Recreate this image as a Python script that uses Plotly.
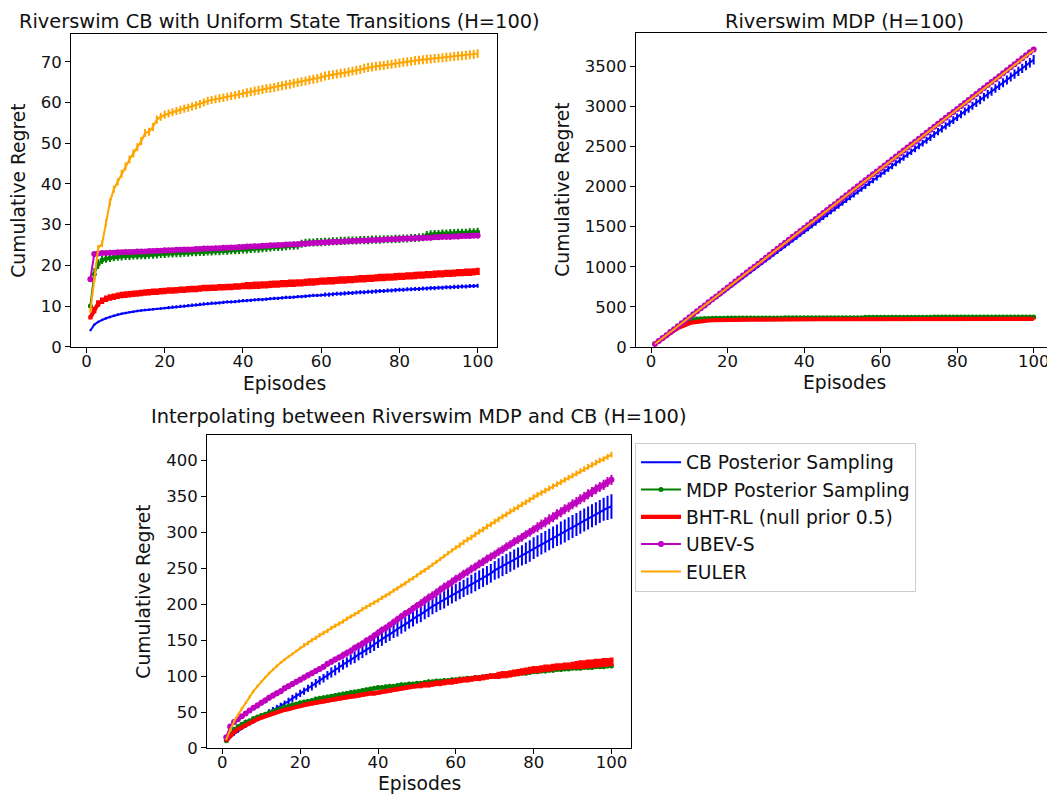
import plotly.graph_objects as go

# Episodes on the x axis (1..100)
episodes = list(range(1, 101))

labels = ["CB Posterior Sampling", "MDP Posterior Sampling", "BHT-RL (null prior 0.5)", "UBEV-S", "EULER"]

"""
-Riverswim CB with Uniform State Transitions (top left)-
"""
tl_cb = [4.0, 5.4, 6.1, 6.6, 7.0, 7.3, 7.6, 7.9, 8.1, 8.3,
         8.5, 8.6, 8.8, 8.9, 9.0, 9.1, 9.2, 9.3, 9.4, 9.5,
         9.6, 9.7, 9.8, 9.9, 10.0, 10.1, 10.2, 10.3, 10.4, 10.5,
         10.6, 10.7, 10.7, 10.8, 10.9, 11.0, 11.0, 11.1, 11.2, 11.3,
         11.3, 11.4, 11.5, 11.6, 11.6, 11.7, 11.8, 11.9, 11.9, 12.0,
         12.1, 12.1, 12.2, 12.3, 12.3, 12.4, 12.5, 12.6, 12.6, 12.7,
         12.8, 12.8, 12.9, 13.0, 13.0, 13.1, 13.2, 13.2, 13.3, 13.4,
         13.4, 13.5, 13.5, 13.6, 13.7, 13.7, 13.8, 13.8, 13.9, 14.0,
         14.0, 14.1, 14.1, 14.2, 14.2, 14.3, 14.3, 14.4, 14.4, 14.5,
         14.5, 14.6, 14.6, 14.7, 14.7, 14.8, 14.8, 14.9, 14.9, 15.0]
tl_mdp = [10.0, 17.8, 20.3, 21.3, 21.6, 21.8, 22.0, 22.1, 22.2, 22.3,
          22.3, 22.4, 22.4, 22.5, 22.5, 22.6, 22.6, 22.7, 22.8, 22.8,
          22.9, 22.9, 23.0, 23.0, 23.1, 23.1, 23.2, 23.2, 23.3, 23.3,
          23.4, 23.4, 23.5, 23.5, 23.6, 23.6, 23.7, 23.7, 23.8, 23.9,
          23.9, 24.0, 24.1, 24.1, 24.2, 24.3, 24.4, 24.5, 24.5, 24.6,
          24.7, 24.8, 24.8, 24.9, 25.3, 25.5, 25.6, 25.6, 25.7, 25.7,
          25.8, 25.8, 25.9, 25.9, 26.0, 26.0, 26.1, 26.1, 26.1, 26.2,
          26.2, 26.2, 26.3, 26.3, 26.3, 26.4, 26.4, 26.4, 26.5, 26.5,
          26.6, 26.6, 26.7, 26.7, 26.8, 26.9, 27.4, 27.6, 27.7, 27.7,
          27.8, 27.8, 27.9, 27.9, 28.0, 28.0, 28.0, 28.1, 28.1, 28.2]
tl_bht = [7.2, 9.0, 10.6, 11.3, 11.8, 12.1, 12.3, 12.5, 12.7, 12.8,
          12.9, 13.0, 13.1, 13.2, 13.3, 13.4, 13.5, 13.5, 13.6, 13.7,
          13.8, 13.8, 13.9, 14.0, 14.0, 14.1, 14.2, 14.2, 14.3, 14.4,
          14.4, 14.5, 14.5, 14.6, 14.6, 14.7, 14.7, 14.8, 14.8, 14.9,
          15.0, 15.0, 15.1, 15.1, 15.2, 15.2, 15.3, 15.4, 15.4, 15.5,
          15.5, 15.6, 15.6, 15.7, 15.7, 15.8, 15.9, 15.9, 16.0, 16.1,
          16.1, 16.2, 16.2, 16.3, 16.4, 16.4, 16.5, 16.5, 16.6, 16.7,
          16.7, 16.8, 16.8, 16.9, 17.0, 17.0, 17.1, 17.1, 17.2, 17.3,
          17.3, 17.4, 17.4, 17.5, 17.6, 17.6, 17.7, 17.7, 17.8, 17.9,
          17.9, 18.0, 18.0, 18.1, 18.2, 18.2, 18.3, 18.3, 18.4, 18.5]
tl_ubev = [16.6, 22.8, 22.9, 23.0, 23.0, 23.1, 23.1, 23.2, 23.2, 23.3,
           23.3, 23.3, 23.4, 23.4, 23.4, 23.5, 23.5, 23.6, 23.6, 23.7,
           23.7, 23.7, 23.8, 23.8, 23.9, 23.9, 23.9, 24.0, 24.0, 24.1,
           24.1, 24.1, 24.2, 24.2, 24.3, 24.3, 24.4, 24.4, 24.5, 24.5,
           24.6, 24.6, 24.7, 24.7, 24.8, 24.8, 24.9, 24.9, 25.0, 25.0,
           25.1, 25.1, 25.2, 25.2, 25.3, 25.3, 25.4, 25.5, 25.5, 25.6,
           25.6, 25.7, 25.7, 25.8, 25.8, 25.9, 25.9, 26.0, 26.0, 26.1,
           26.1, 26.1, 26.2, 26.2, 26.3, 26.3, 26.4, 26.4, 26.4, 26.5,
           26.5, 26.6, 26.6, 26.7, 26.7, 26.7, 26.8, 26.8, 26.9, 26.9,
           27.0, 27.0, 27.0, 27.1, 27.1, 27.2, 27.2, 27.2, 27.3, 27.3]
tl_euler = [8.8, 16.5, 24.2, 25.3, 30.5, 35.5, 38.7, 40.5, 42.5, 44.3,
            46.0, 47.5, 49.0, 50.5, 52.5, 52.8, 54.0, 55.8, 56.5, 57.0,
            57.3, 57.6, 57.9, 58.2, 58.5, 58.7, 59.0, 59.3, 59.6, 60.0,
            60.4, 60.6, 60.8, 61.0, 61.2, 61.4, 61.6, 61.8, 62.0, 62.2,
            62.4, 62.6, 62.8, 63.0, 63.2, 63.4, 63.5, 63.7, 63.9, 64.1,
            64.3, 64.5, 64.7, 64.9, 65.1, 65.3, 65.5, 65.7, 65.9, 66.2,
            66.5, 66.7, 66.8, 67.0, 67.2, 67.3, 67.5, 67.7, 67.9, 68.1,
            68.4, 68.6, 68.7, 68.9, 69.0, 69.1, 69.3, 69.4, 69.6, 69.7,
            69.9, 70.0, 70.1, 70.3, 70.4, 70.5, 70.6, 70.7, 70.8, 70.9,
            71.0, 71.1, 71.2, 71.3, 71.4, 71.5, 71.6, 71.7, 71.8, 72.0]

tl_cb_err = [0.2, 0.3, 0.3, 0.3, 0.3, 0.3, 0.3, 0.3, 0.3, 0.3,
             0.3, 0.3, 0.3, 0.3, 0.3, 0.3, 0.3, 0.3, 0.3, 0.3,
             0.4, 0.4, 0.4, 0.4, 0.4, 0.4, 0.4, 0.4, 0.4, 0.4,
             0.4, 0.4, 0.4, 0.4, 0.4, 0.4, 0.4, 0.4, 0.4, 0.4,
             0.4, 0.4, 0.4, 0.4, 0.4, 0.4, 0.4, 0.4, 0.4, 0.4,
             0.4, 0.4, 0.4, 0.4, 0.4, 0.4, 0.4, 0.4, 0.4, 0.4,
             0.5, 0.5, 0.5, 0.5, 0.5, 0.5, 0.5, 0.5, 0.5, 0.5,
             0.5, 0.5, 0.5, 0.5, 0.5, 0.5, 0.5, 0.5, 0.5, 0.5,
             0.5, 0.5, 0.5, 0.5, 0.5, 0.5, 0.5, 0.5, 0.5, 0.5,
             0.5, 0.5, 0.5, 0.5, 0.5, 0.5, 0.5, 0.5, 0.5, 0.5]
tl_mdp_err = [0.5, 1.5, 1.2, 1.0, 1.0, 1.0, 1.0, 1.0, 1.0, 1.0,
              1.0, 1.0, 1.0, 1.0, 1.0, 1.0, 1.0, 1.0, 1.0, 1.0,
              1.0, 1.0, 1.0, 1.0, 1.0, 1.0, 1.0, 1.0, 1.0, 1.0,
              1.0, 1.0, 1.0, 1.0, 1.0, 1.0, 1.0, 1.0, 1.0, 1.0,
              1.0, 1.0, 1.0, 1.0, 1.0, 1.0, 1.0, 1.0, 1.0, 1.0,
              1.0, 1.0, 1.0, 1.0, 1.0, 1.0, 1.0, 1.0, 1.0, 1.0,
              1.0, 1.0, 1.0, 1.0, 1.0, 1.0, 1.0, 1.0, 1.0, 1.0,
              1.0, 1.0, 1.0, 1.0, 1.0, 1.0, 1.0, 1.0, 1.0, 1.0,
              1.0, 1.0, 1.0, 1.0, 1.0, 1.0, 1.0, 1.0, 1.0, 1.0,
              1.0, 1.0, 1.0, 1.0, 1.0, 1.0, 1.0, 1.0, 1.0, 1.0]
tl_bht_err = [0.5, 0.8, 0.8, 0.8, 0.8, 0.8, 0.8, 0.8, 0.8, 0.8,
              0.8, 0.8, 0.8, 0.8, 0.8, 0.8, 0.8, 0.8, 0.8, 0.8,
              0.8, 0.8, 0.8, 0.8, 0.8, 0.8, 0.8, 0.8, 0.8, 0.8,
              0.8, 0.8, 0.8, 0.8, 0.8, 0.8, 0.8, 0.8, 0.8, 0.8,
              0.9, 0.9, 0.9, 0.9, 0.9, 0.9, 0.9, 0.9, 0.9, 0.9,
              0.9, 0.9, 0.9, 0.9, 0.9, 0.9, 0.9, 0.9, 0.9, 0.9,
              0.9, 0.9, 0.9, 0.9, 0.9, 0.9, 0.9, 0.9, 0.9, 0.9,
              0.9, 0.9, 0.9, 0.9, 0.9, 0.9, 0.9, 0.9, 0.9, 0.9,
              0.9, 0.9, 0.9, 0.9, 0.9, 0.9, 0.9, 0.9, 0.9, 0.9,
              0.9, 0.9, 0.9, 0.9, 0.9, 0.9, 0.9, 0.9, 0.9, 0.9]
tl_ubev_err = [0.4, 0.5, 0.5, 0.5, 0.5, 0.5, 0.5, 0.5, 0.5, 0.5,
               0.5, 0.5, 0.5, 0.5, 0.5, 0.5, 0.5, 0.5, 0.5, 0.5,
               0.6, 0.6, 0.6, 0.6, 0.6, 0.6, 0.6, 0.6, 0.6, 0.6,
               0.6, 0.6, 0.6, 0.6, 0.6, 0.6, 0.6, 0.6, 0.6, 0.6,
               0.6, 0.6, 0.6, 0.6, 0.6, 0.6, 0.6, 0.6, 0.6, 0.6,
               0.6, 0.6, 0.6, 0.6, 0.6, 0.6, 0.6, 0.6, 0.6, 0.6,
               0.6, 0.6, 0.6, 0.6, 0.6, 0.6, 0.6, 0.6, 0.6, 0.6,
               0.6, 0.6, 0.6, 0.6, 0.6, 0.6, 0.6, 0.6, 0.6, 0.6,
               0.7, 0.7, 0.7, 0.7, 0.7, 0.7, 0.7, 0.7, 0.7, 0.7,
               0.7, 0.7, 0.7, 0.7, 0.7, 0.7, 0.7, 0.7, 0.7, 0.7]
tl_euler_err = [0.5, 0.8, 0.8, 0.8, 0.9, 0.9, 0.9, 0.9, 1.0, 1.0,
                1.0, 1.0, 1.0, 1.0, 1.0, 1.0, 1.0, 1.0, 1.0, 1.0,
                1.0, 1.0, 1.0, 1.0, 1.0, 1.0, 1.0, 1.0, 1.0, 1.0,
                1.0, 1.0, 1.0, 1.0, 1.0, 1.0, 1.0, 1.0, 1.0, 1.0,
                1.1, 1.1, 1.1, 1.1, 1.1, 1.1, 1.1, 1.1, 1.1, 1.1,
                1.1, 1.1, 1.1, 1.1, 1.1, 1.1, 1.1, 1.1, 1.1, 1.1,
                1.1, 1.1, 1.1, 1.1, 1.1, 1.1, 1.1, 1.1, 1.1, 1.1,
                1.1, 1.1, 1.1, 1.1, 1.1, 1.1, 1.1, 1.1, 1.1, 1.1,
                1.1, 1.1, 1.1, 1.1, 1.1, 1.1, 1.1, 1.1, 1.1, 1.1,
                1.1, 1.1, 1.1, 1.1, 1.1, 1.1, 1.1, 1.1, 1.1, 1.1]

"""
-Riverswim MDP (top right)-
"""
tr_cb = [36, 72, 107, 143, 179, 215, 251, 286, 322, 358,
         394, 430, 465, 501, 537, 573, 609, 644, 680, 716,
         752, 788, 823, 859, 895, 931, 967, 1002, 1038, 1074,
         1110, 1146, 1181, 1217, 1253, 1289, 1325, 1360, 1396, 1432,
         1468, 1504, 1539, 1575, 1611, 1647, 1683, 1718, 1754, 1790,
         1826, 1862, 1897, 1933, 1969, 2005, 2041, 2076, 2112, 2148,
         2184, 2220, 2255, 2291, 2327, 2363, 2399, 2434, 2470, 2506,
         2542, 2578, 2613, 2649, 2685, 2721, 2757, 2792, 2828, 2864,
         2900, 2936, 2971, 3007, 3043, 3079, 3115, 3150, 3186, 3222,
         3258, 3294, 3329, 3365, 3401, 3437, 3473, 3508, 3544, 3580]
tr_mdp = [37, 74, 110, 146, 182, 218, 252, 283, 310, 330,
          342, 349, 353, 355, 357, 358, 359, 360, 360, 361,
          361, 361, 362, 362, 362, 362, 362, 363, 363, 363,
          363, 363, 363, 363, 364, 364, 364, 364, 364, 364,
          364, 364, 364, 364, 364, 365, 365, 365, 365, 365,
          365, 365, 365, 365, 366, 371, 371, 372, 372, 372,
          372, 372, 372, 372, 372, 372, 372, 372, 372, 372,
          372, 372, 372, 373, 373, 373, 373, 373, 373, 373,
          373, 373, 373, 373, 373, 373, 373, 373, 373, 373,
          373, 373, 373, 373, 373, 373, 373, 373, 373, 373]
tr_bht = [37, 73, 108, 143, 176, 207, 236, 260, 280, 296,
          308, 317, 323, 328, 331, 334, 336, 337, 338, 339,
          340, 340, 341, 341, 342, 342, 342, 343, 343, 343,
          343, 344, 344, 344, 344, 344, 345, 345, 345, 345,
          345, 345, 346, 346, 346, 346, 346, 346, 346, 347,
          347, 347, 347, 347, 347, 347, 347, 348, 348, 348,
          348, 348, 348, 348, 348, 348, 348, 349, 349, 349,
          349, 349, 349, 349, 349, 349, 349, 349, 350, 350,
          350, 350, 350, 350, 350, 350, 350, 350, 350, 350,
          350, 351, 351, 351, 351, 351, 351, 351, 351, 351]
tr_ubev = [37, 74, 111, 148, 186, 223, 260, 297, 334, 371,
           408, 445, 482, 519, 557, 594, 631, 668, 705, 742,
           779, 816, 853, 890, 928, 965, 1002, 1039, 1076, 1113,
           1150, 1187, 1224, 1261, 1299, 1336, 1373, 1410, 1447, 1484,
           1521, 1558, 1595, 1632, 1670, 1707, 1744, 1781, 1818, 1855,
           1892, 1929, 1966, 2003, 2041, 2078, 2115, 2152, 2189, 2226,
           2263, 2300, 2337, 2374, 2412, 2449, 2486, 2523, 2560, 2597,
           2634, 2671, 2708, 2745, 2783, 2820, 2857, 2894, 2931, 2968,
           3005, 3042, 3079, 3116, 3154, 3191, 3228, 3265, 3302, 3339,
           3376, 3413, 3450, 3487, 3525, 3562, 3599, 3636, 3673, 3710]
tr_euler = [37, 74, 111, 148, 185, 222, 259, 296, 333, 370,
            407, 444, 481, 518, 555, 592, 629, 666, 703, 740,
            777, 814, 851, 888, 925, 962, 999, 1036, 1073, 1110,
            1147, 1184, 1221, 1258, 1295, 1332, 1369, 1406, 1443, 1480,
            1517, 1554, 1591, 1628, 1665, 1702, 1739, 1776, 1813, 1850,
            1887, 1924, 1961, 1998, 2035, 2072, 2109, 2146, 2183, 2220,
            2257, 2294, 2331, 2368, 2405, 2442, 2479, 2516, 2553, 2590,
            2627, 2664, 2701, 2738, 2775, 2812, 2849, 2886, 2923, 2960,
            2997, 3034, 3071, 3108, 3145, 3182, 3219, 3256, 3293, 3330,
            3367, 3404, 3441, 3478, 3515, 3552, 3589, 3626, 3663, 3700]

tr_cb_err = [1, 1, 2, 2, 3, 4, 4, 5, 5, 6,
             7, 7, 8, 8, 9, 10, 10, 11, 11, 12,
             13, 13, 14, 14, 15, 16, 16, 17, 17, 18,
             19, 19, 20, 20, 21, 22, 22, 23, 23, 24,
             25, 25, 26, 26, 27, 28, 28, 29, 29, 30,
             31, 31, 32, 32, 33, 34, 34, 35, 35, 36,
             37, 37, 38, 38, 39, 40, 40, 41, 41, 42,
             43, 43, 44, 44, 45, 46, 46, 47, 47, 48,
             49, 49, 50, 50, 51, 52, 52, 53, 53, 54,
             55, 55, 56, 56, 57, 58, 58, 59, 59, 60]
tr_mdp_err = [2, 3, 4, 5, 6, 7, 8, 9, 10, 10,
              10, 10, 10, 10, 10, 10, 10, 10, 10, 10,
              10, 10, 10, 10, 10, 10, 10, 10, 10, 10,
              10, 10, 10, 10, 10, 10, 10, 10, 10, 10,
              10, 10, 10, 10, 10, 10, 10, 10, 10, 10,
              10, 10, 10, 10, 10, 11, 11, 11, 11, 11,
              11, 11, 11, 11, 11, 11, 11, 11, 11, 11,
              11, 11, 11, 11, 11, 11, 11, 11, 11, 11,
              11, 11, 11, 11, 11, 11, 11, 11, 11, 11,
              11, 11, 11, 11, 11, 11, 11, 11, 11, 11]
tr_bht_err = [2, 3, 4, 5, 6, 7, 7, 8, 8, 8,
              8, 8, 8, 8, 8, 8, 8, 8, 8, 8,
              8, 8, 8, 8, 8, 8, 8, 8, 8, 8,
              8, 8, 8, 8, 8, 8, 8, 8, 8, 8,
              8, 8, 8, 8, 8, 8, 8, 8, 8, 8,
              8, 8, 8, 8, 8, 8, 8, 8, 8, 8,
              8, 8, 8, 8, 8, 8, 8, 8, 8, 8,
              8, 8, 8, 8, 8, 8, 8, 8, 8, 8,
              8, 8, 8, 8, 8, 8, 8, 8, 8, 8,
              8, 8, 8, 8, 8, 8, 8, 8, 8, 8]
tr_ubev_err = [2, 3, 4, 4, 5, 5, 6, 6, 7, 7,
               8, 8, 8, 8, 8, 8, 8, 8, 8, 8,
               8, 8, 8, 8, 8, 8, 8, 8, 8, 8,
               9, 9, 9, 9, 9, 9, 9, 9, 9, 9,
               9, 9, 9, 9, 9, 9, 9, 9, 9, 9,
               9, 9, 9, 9, 9, 9, 9, 9, 9, 9,
               10, 10, 10, 10, 10, 10, 10, 10, 10, 10,
               10, 10, 10, 10, 10, 10, 10, 10, 10, 10,
               10, 10, 10, 10, 10, 10, 10, 10, 10, 10,
               10, 10, 10, 10, 10, 10, 10, 10, 10, 10]
tr_euler_err = [1, 2, 2, 3, 3, 3, 4, 4, 4, 4,
                5, 5, 5, 5, 5, 5, 5, 5, 5, 5,
                5, 5, 5, 5, 5, 5, 5, 5, 5, 5,
                5, 5, 5, 5, 5, 5, 5, 5, 5, 5,
                5, 5, 5, 5, 5, 5, 5, 5, 5, 5,
                5, 5, 5, 5, 5, 5, 5, 5, 5, 5,
                5, 5, 5, 5, 5, 5, 5, 5, 5, 5,
                5, 5, 5, 5, 5, 5, 5, 5, 5, 5,
                5, 5, 5, 5, 5, 5, 5, 5, 5, 5,
                5, 5, 5, 5, 5, 5, 5, 5, 5, 5]

"""
-Interpolating between Riverswim MDP and CB (bottom)-
"""
bt_cb = [10, 15, 19, 23, 27, 30, 34, 37, 40, 43,
         46, 50, 53, 56, 59, 62, 65, 69, 72, 76,
         79, 83, 86, 90, 94, 97, 101, 105, 108, 112,
         116, 119, 123, 126, 130, 133, 137, 140, 144, 148,
         151, 155, 158, 162, 165, 169, 172, 176, 179, 183,
         186, 190, 193, 197, 200, 203, 206, 210, 213, 216,
         219, 222, 225, 228, 231, 234, 237, 240, 243, 247,
         250, 253, 256, 259, 262, 265, 268, 271, 274, 278,
         281, 284, 287, 290, 293, 296, 299, 302, 305, 308,
         311, 314, 317, 320, 323, 326, 329, 332, 334, 336]
bt_mdp = [10, 20, 26, 30, 33, 36, 38, 41, 43, 45,
          47, 49, 51, 53, 55, 57, 58, 60, 61, 63,
          64, 65, 66, 68, 69, 70, 71, 72, 73, 74,
          75, 76, 77, 78, 79, 80, 81, 82, 83, 84,
          84, 85, 86, 86, 87, 88, 88, 89, 89, 90,
          90, 91, 92, 92, 93, 93, 94, 94, 95, 95,
          96, 96, 97, 97, 98, 98, 99, 99, 100, 100,
          101, 101, 102, 102, 103, 103, 104, 104, 105, 106,
          106, 107, 107, 108, 108, 109, 109, 110, 110, 111,
          111, 111, 112, 112, 112, 113, 113, 113, 114, 114]
bt_bht = [10, 17, 22, 26, 29, 32, 35, 37, 40, 42,
          44, 46, 48, 50, 51, 53, 54, 56, 57, 58,
          60, 61, 62, 63, 64, 65, 66, 67, 68, 69,
          70, 71, 72, 72, 73, 74, 75, 76, 76, 77,
          78, 79, 80, 81, 82, 83, 84, 85, 86, 86,
          87, 88, 88, 89, 90, 90, 91, 92, 92, 93,
          94, 95, 95, 96, 97, 97, 98, 99, 100, 100,
          101, 102, 102, 103, 104, 105, 106, 107, 108, 109,
          109, 110, 111, 111, 112, 113, 113, 114, 114, 115,
          115, 116, 116, 117, 117, 118, 118, 119, 119, 120]
bt_ubev = [15, 30, 36, 40, 44, 48, 52, 56, 59, 63,
           66, 70, 73, 76, 79, 83, 86, 89, 92, 95,
           98, 101, 104, 107, 110, 113, 117, 120, 123, 126,
           129, 132, 135, 139, 142, 145, 149, 152, 156, 160,
           164, 167, 171, 175, 179, 183, 187, 190, 194, 198,
           201, 205, 209, 212, 216, 220, 224, 227, 231, 235,
           238, 242, 245, 249, 252, 256, 259, 263, 266, 269,
           273, 276, 280, 283, 287, 290, 293, 297, 300, 304,
           307, 311, 314, 318, 321, 325, 328, 332, 335, 339,
           342, 346, 349, 353, 356, 360, 363, 366, 370, 373]
bt_euler = [12, 25, 37, 46, 55, 63, 71, 79, 86, 92,
            98, 104, 109, 114, 119, 123, 127, 131, 135, 139,
            143, 146, 150, 153, 157, 160, 163, 167, 170, 173,
            176, 180, 183, 186, 189, 193, 196, 199, 202, 205,
            209, 212, 215, 219, 222, 226, 229, 233, 236, 240,
            244, 247, 251, 255, 259, 263, 267, 271, 275, 279,
            282, 286, 290, 293, 297, 301, 304, 308, 311, 315,
            318, 322, 325, 329, 332, 335, 339, 342, 345, 349,
            352, 355, 358, 361, 364, 367, 370, 373, 376, 379,
            382, 385, 388, 391, 394, 397, 400, 402, 405, 408]

bt_cb_err = [1, 1, 2, 2, 2, 2, 3, 3, 3, 3,
             3, 4, 4, 4, 4, 4, 5, 5, 5, 5,
             5, 5, 6, 6, 6, 6, 6, 7, 7, 7,
             7, 7, 7, 8, 8, 8, 8, 8, 9, 9,
             9, 9, 9, 9, 10, 10, 10, 10, 10, 10,
             11, 11, 11, 11, 11, 11, 12, 12, 12, 12,
             12, 12, 12, 13, 13, 13, 13, 13, 13, 13,
             14, 14, 14, 14, 14, 14, 14, 15, 15, 15,
             15, 15, 15, 15, 15, 15, 16, 16, 16, 16,
             16, 16, 16, 16, 16, 16, 16, 16, 17, 17]
bt_mdp_err = [1, 2, 2, 2, 2, 2, 2, 2, 2, 2,
              2, 2, 2, 2, 2, 2, 2, 2, 2, 2,
              3, 3, 3, 3, 3, 3, 3, 3, 3, 3,
              3, 3, 3, 3, 3, 3, 3, 3, 3, 3,
              3, 3, 3, 3, 3, 3, 3, 3, 3, 3,
              3, 3, 3, 3, 3, 3, 3, 3, 3, 3,
              3, 3, 3, 3, 3, 3, 3, 3, 3, 3,
              3, 3, 3, 3, 3, 3, 3, 3, 3, 3,
              3, 3, 3, 3, 3, 3, 3, 3, 3, 3,
              3, 3, 3, 3, 3, 3, 3, 3, 3, 3]
bt_bht_err = [1, 2, 2, 2, 2, 2, 2, 2, 2, 2,
              2, 2, 2, 2, 2, 2, 2, 2, 2, 2,
              3, 3, 3, 3, 3, 3, 3, 3, 3, 3,
              3, 3, 3, 3, 3, 3, 3, 3, 3, 3,
              3, 3, 3, 3, 3, 3, 3, 3, 3, 3,
              4, 4, 4, 4, 4, 4, 4, 4, 4, 4,
              4, 4, 4, 4, 4, 4, 4, 4, 4, 4,
              5, 5, 5, 5, 5, 5, 5, 5, 5, 5,
              5, 5, 5, 5, 5, 5, 5, 5, 5, 5,
              6, 6, 6, 6, 6, 6, 6, 6, 6, 6]
bt_ubev_err = [3, 3, 3, 3, 3, 3, 3, 3, 4, 4,
               4, 4, 4, 4, 4, 4, 4, 4, 4, 4,
               4, 4, 4, 4, 4, 4, 4, 4, 4, 4,
               5, 5, 5, 5, 5, 5, 5, 5, 5, 5,
               5, 5, 5, 5, 5, 5, 5, 5, 5, 5,
               6, 6, 6, 6, 6, 6, 6, 6, 6, 6,
               6, 6, 6, 6, 6, 6, 6, 6, 6, 6,
               6, 6, 6, 6, 6, 6, 6, 6, 6, 6,
               7, 7, 7, 7, 7, 7, 7, 7, 7, 7,
               7, 7, 7, 7, 7, 7, 7, 7, 7, 7]
bt_euler_err = [1, 2, 2, 2, 2, 2, 2, 2, 2, 2,
                2, 2, 2, 2, 2, 2, 2, 2, 2, 2,
                3, 3, 3, 3, 3, 3, 3, 3, 3, 3,
                3, 3, 3, 3, 3, 3, 3, 3, 3, 3,
                3, 3, 3, 3, 3, 3, 3, 3, 3, 3,
                3, 3, 3, 3, 3, 3, 3, 3, 3, 3,
                4, 4, 4, 4, 4, 4, 4, 4, 4, 4,
                4, 4, 4, 4, 4, 4, 4, 4, 4, 4,
                4, 4, 4, 4, 4, 4, 4, 4, 4, 4,
                4, 4, 4, 4, 4, 4, 4, 4, 4, 4]

"""
-Styling (matplotlib-ish look)-
"""
colors = ["#0000ff", "#008000", "#ff0000", "#bf00bf", "#ffa500"]
line_widths = [2, 2, 4.2, 2, 2]
marker_sizes = [0, 5, 0, 6, 0]
FONT = "DejaVu Sans"
FS_TICK = 16.5
FS = 18.7
FS_TITLE = 19.4
W, H = 1055, 803

panels = [
    ("x", "y", [tl_cb, tl_mdp, tl_bht, tl_ubev, tl_euler],
     [tl_cb_err, tl_mdp_err, tl_bht_err, tl_ubev_err, tl_euler_err], False),
    ("x2", "y2", [tr_cb, tr_mdp, tr_bht, tr_ubev, tr_euler],
     [tr_cb_err, tr_mdp_err, tr_bht_err, tr_ubev_err, tr_euler_err], False),
    ("x3", "y3", [bt_cb, bt_mdp, bt_bht, bt_ubev, bt_euler],
     [bt_cb_err, bt_mdp_err, bt_bht_err, bt_ubev_err, bt_euler_err], True),
]

fig = go.Figure()
for xa, ya, series, errs, show in panels:
    for i in range(5):
        mode = "lines+markers" if marker_sizes[i] else "lines"
        fig.add_trace(go.Scatter(
            x=episodes, y=series[i], xaxis=xa, yaxis=ya, mode=mode, name=labels[i],
            showlegend=show,
            line=dict(color=colors[i], width=line_widths[i]),
            marker=dict(color=colors[i], size=marker_sizes[i] if marker_sizes[i] else 1),
            error_y=dict(type="data", array=errs[i], visible=True, color=colors[i],
                         thickness=line_widths[i], width=0),
        ))


def px_x(p):
    return p / W


def px_y(p):
    return 1 - p / H


axis_common = dict(showline=True, linecolor="black", linewidth=1.1, mirror=True,
                   ticks="outside", ticklen=5, tickwidth=1.1, tickcolor="black",
                   showgrid=False, zeroline=False,
                   tickfont=dict(family=FONT, size=FS_TICK, color="#111111"))
x_common = dict(range=[-3.95, 104.95], tickvals=[0, 20, 40, 60, 80, 100], ticklabelstandoff=-6)

fig.update_layout(
    width=W, height=H,
    margin=dict(l=0, r=0, t=0, b=0),
    paper_bgcolor="white", plot_bgcolor="white",
    font=dict(family=FONT, size=FS, color="#111111"),
    xaxis=dict(domain=[px_x(63), px_x(489)], anchor="y", **x_common, **axis_common),
    yaxis=dict(domain=[px_y(343), px_y(26)], range=[0, 76.9], tickvals=[0, 10, 20, 30, 40, 50, 60, 70],
               anchor="x", **axis_common),
    xaxis2=dict(domain=[px_x(628), px_x(1044.6)], anchor="y2", **x_common, **axis_common),
    yaxis2=dict(domain=[px_y(343.3), px_y(25)], range=[0, 3918],
                tickvals=[0, 500, 1000, 1500, 2000, 2500, 3000, 3500], anchor="x2", **axis_common),
    xaxis3=dict(domain=[px_x(199), px_x(622.7)], anchor="y3", **x_common, **axis_common),
    yaxis3=dict(domain=[px_y(749.3), px_y(432.7)], range=[0, 435],
                tickvals=[0, 50, 100, 150, 200, 250, 300, 350, 400], anchor="x3", **axis_common),
    legend=dict(x=px_x(627), y=px_y(440), xanchor="left", yanchor="top",
                bgcolor="white", bordercolor="#cccccc", borderwidth=1,
                font=dict(family=FONT, size=FS, color="#111111"),
                tracegroupgap=0, itemwidth=40),
)

# titles and axis labels placed like matplotlib's
texts = [
    ("Riverswim CB with Uniform State Transitions (H=100)", 271, 0, 0, FS_TITLE, "top"),
    ("Riverswim MDP (H=100)", 836, 0, 0, FS_TITLE, "top"),
    ("Interpolating between Riverswim MDP and CB (H=100)", 411, 414, 0, FS_TITLE, "middle"),
    ("Episodes", 276, 380, 0, FS, "middle"),
    ("Episodes", 836, 379, 0, FS, "middle"),
    ("Episodes", 411, 785, 0, FS, "middle"),
    ("Cumulative Regret", 11, 185, -90, FS, "middle"),
    ("Cumulative Regret", 555, 184, -90, FS, "middle"),
    ("Cumulative Regret", 136, 591, -90, FS, "middle"),
]
for txt, xp, yp, ang, fs, ya in texts:
    fig.add_annotation(text=txt, x=px_x(xp), y=px_y(yp), xref="paper", yref="paper",
                       xanchor="center", yanchor=ya, showarrow=False, textangle=ang,
                       font=dict(family=FONT, size=fs, color="#111111"))

fig.write_html("out.html")
